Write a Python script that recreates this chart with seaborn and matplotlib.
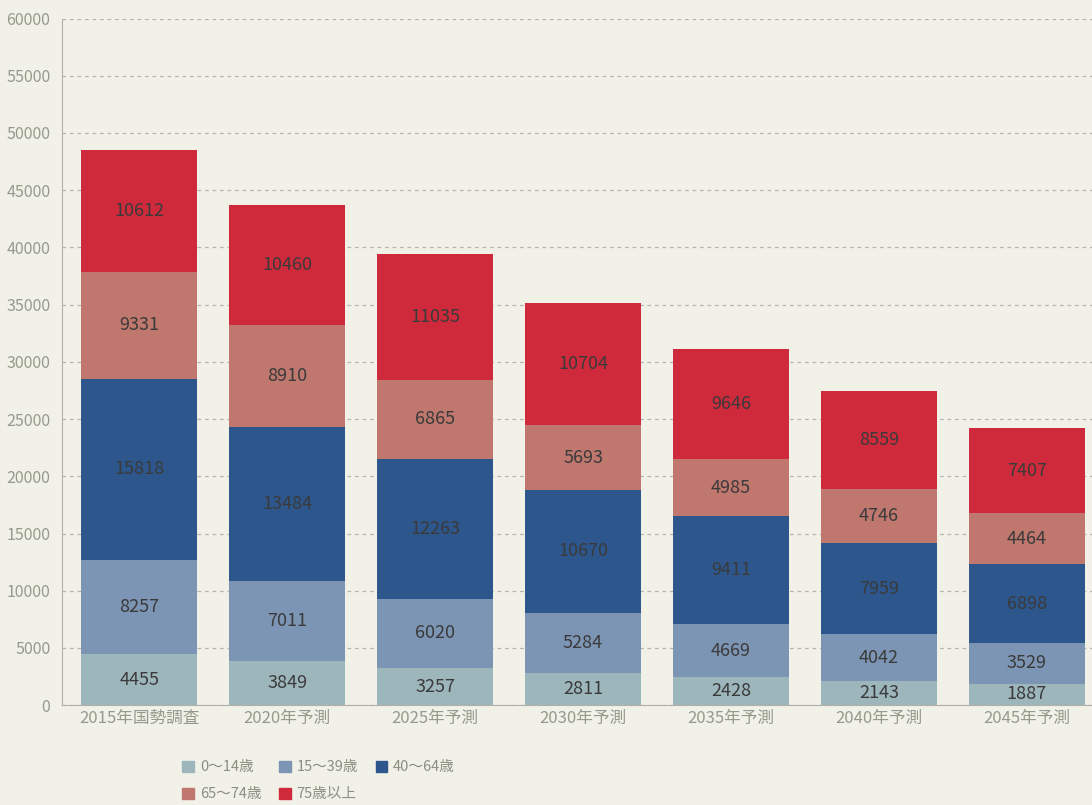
import numpy as np
import pandas as pd
import matplotlib
matplotlib.use('Agg')
import matplotlib.pyplot as plt
import seaborn as sns

# データ
categories = ['2015年国勢調査', '2020年予測', '2025年予測', '2030年予測', '2035年予測', '2040年予測', '2045年予測']
age_groups = ['0～14歳', '15～39歳', '40～64歳', '65～74歳', '75歳以上']
age_0_14 = [4455, 3849, 3257, 2811, 2428, 2143, 1887]
age_15_39 = [8257, 7011, 6020, 5284, 4669, 4042, 3529]
age_40_64 = [15818, 13484, 12263, 10670, 9411, 7959, 6898]
age_65_74 = [9331, 8910, 6865, 5693, 4985, 4746, 4464]
age_75_up = [10612, 10460, 11035, 10704, 9646, 8559, 7407]
colors = ['#9db6bb', '#7d95b4', '#2d578c', '#bf776e', '#cf2a3c']

series = [age_0_14, age_15_39, age_40_64, age_65_74, age_75_up]
df = pd.DataFrame(dict(zip(age_groups, series)), index=categories)
cum = df.cumsum(axis=1)

sns.set_style('white')
plt.rcParams['font.family'] = ['Noto Sans CJK JP', 'DejaVu Sans']

fig = plt.figure(figsize=(10.92, 8.05), dpi=100)
fig.patch.set_facecolor('#f1f1e8')
ax = fig.add_axes([0.057, 0.124, 0.943, 0.853])
ax.set_facecolor('#f1f1e8')

# 積み上げ棒（上の層から順に描画）
for grp, col in reversed(list(zip(age_groups, colors))):
    sns.barplot(x=categories, y=cum[grp].values, color=col, width=0.78,
                ax=ax, saturation=1, linewidth=0, edgecolor=col, zorder=3)

# 数値ラベル
for i, cat in enumerate(categories):
    bottom = 0
    for grp in age_groups:
        v = df.loc[cat, grp]
        ax.text(i, bottom + v / 2, str(v), ha='center', va='center',
                fontsize=13, color='#3a3a3a', zorder=5)
        bottom += v

ax.set_ylim(0, 60000)
ax.set_xlim(-0.52, 6.44)
ax.set_yticks(np.arange(0, 60001, 5000))
ax.yaxis.grid(True, linestyle=(0, (3, 3)), color='#b5b5ad', linewidth=0.9, zorder=0)
ax.set_axisbelow(True)
for s in ['top', 'right']:
    ax.spines[s].set_visible(False)
ax.spines['left'].set_color('#b0b0a8')
ax.spines['bottom'].set_color('#b0b0a8')
ax.tick_params(axis='y', colors='#959a8c', labelsize=11.5, length=5, color='#b0b0a8')
ax.tick_params(axis='x', colors='#959a8c', labelsize=12, length=0)
ax.set_xlabel('')
ax.set_ylabel('')

# 凡例（行ごとに並べる）
handles = [plt.Rectangle((0, 0), 1, 1, color=c) for c in colors]
order = [0, 3, 1, 4, 2]
leg = fig.legend([handles[k] for k in order], [age_groups[k] for k in order],
                 loc='upper left', bbox_to_anchor=(0.155, 0.072),
                 ncol=3, frameon=False, fontsize=10.5, handlelength=0.8,
                 handleheight=0.8, columnspacing=1.2, handletextpad=0.4, labelspacing=0.9)
for t in leg.get_texts():
    t.set_color('#8a8f82')

fig.savefig('out.png', dpi=100, facecolor=fig.get_facecolor())
